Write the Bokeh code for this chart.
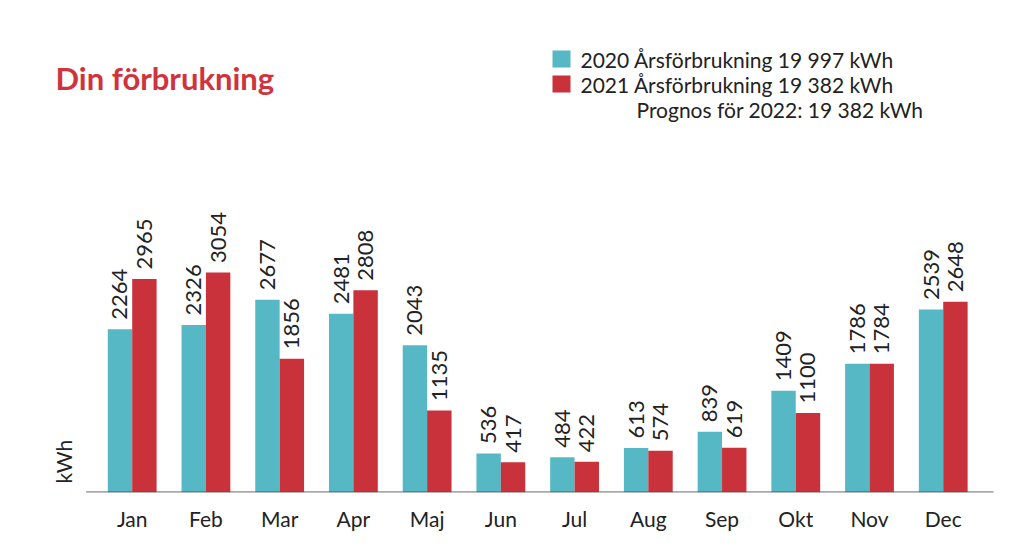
import numpy as np
from bokeh.plotting import figure
from bokeh.models import ColumnDataSource, FixedTicker, Range1d
from bokeh.core.properties import value
from bokeh.embed import file_html
from bokeh.resources import INLINE

months = ["Jan", "Feb", "Mar", "Apr", "Maj", "Jun", "Jul", "Aug", "Sep", "Okt", "Nov", "Dec"]
y2020 = [2264, 2326, 2677, 2481, 2043, 536, 484, 613, 839, 1409, 1786, 2539]
y2021 = [2965, 3054, 1856, 2808, 1135, 417, 422, 574, 619, 1100, 1784, 2648]
title_text = "Din förbrukning"
legend_lines = ["2020 Årsförbrukning 19 997 kWh", "2021 Årsförbrukning 19 382 kWh", "Prognos för 2022: 19 382 kWh"]
unit_label = "kWh"

TEAL = "#56b8c5"
RED = "#c9313b"
TXT = "#222222"
FONT = "Lato"

W, H = 1007, 541
BASE = 492          # baseline pixel row
BOTTOM = H - BASE
PX_PER_KWH = 0.0719
PX_PER_CAT = 73.73
X0 = -131.7 / PX_PER_CAT  # frame left in category units

frame_h = BASE
y_start = -5
y_end = y_start + frame_h / PX_PER_KWH
x_end = X0 + W / PX_PER_CAT

def xd(sx):  # pixel x -> data
    return X0 + sx / PX_PER_CAT

def yd(sy):  # pixel y -> data
    return y_start + (frame_h - sy) / PX_PER_KWH

p = figure(width=W, height=H, output_backend="svg", toolbar_location=None,
           x_range=Range1d(X0, x_end), y_range=Range1d(y_start, y_end),
           y_axis_location=None, min_border_left=0, min_border_right=0,
           min_border_top=0, min_border_bottom=BOTTOM)
p.outline_line_color = None
p.xgrid.visible = False
p.ygrid.visible = False
p.background_fill_color = "white"

idx = np.arange(len(months))
bw = 0.331
src = ColumnDataSource(dict(x=idx, a=y2020, b=y2021,
                            xa=idx - bw / 2, xb=idx + bw / 2,
                            la=[str(v) for v in y2020], lb=[str(v) for v in y2021]))

p.vbar(x="xa", top="a", bottom=0, width=bw, source=src, fill_color=TEAL, line_color=None)
p.vbar(x="xb", top="b", bottom=0, width=bw, source=src, fill_color=RED, line_color=None)

# baseline
p.segment(x0=[xd(85.7)], y0=[0], x1=[xd(993)], y1=[0], line_color="#555555", line_width=1.2)

# value labels
gap = 9.5 / PX_PER_KWH
src.data["ya"] = [v + gap for v in y2020]
src.data["yb"] = [v + gap for v in y2021]
for xcol, ycol, lcol in (("xa", "ya", "la"), ("xb", "yb", "lb")):
    p.text(x=xcol, y=ycol, text=lcol, source=src, angle=np.pi / 2,
           text_align="left", text_baseline="middle", text_font=value(FONT),
           text_font_size="22px", text_color=TXT)

# x axis (months)
ax = p.xaxis[0]
ax.ticker = FixedTicker(ticks=list(idx))
ax.major_label_overrides = {int(i): m for i, m in zip(idx, months)}
ax.axis_line_color = None
ax.major_tick_line_color = None
ax.minor_tick_line_color = None
ax.major_label_standoff = 7
ax.major_label_text_font = FONT
ax.major_label_text_font_size = "21px"
ax.major_label_text_color = TXT

# kWh unit label
p.text(x=[xd(63.3)], y=[yd(483)], text=[unit_label], angle=np.pi / 2, text_align="left",
       text_baseline="middle", text_font=value(FONT), text_font_size="21px", text_color=TXT)

# title
p.text(x=[xd(55)], y=[yd(77)], text=[title_text], text_align="left", text_baseline="alphabetic",
       text_font=value(FONT), text_font_style="bold", text_font_size="31px", text_color="#d0333c")

# legend
p.rect(x=[xd(561), xd(561)], y=[yd(58.5), yd(83.5)], width=18, height=17,
       width_units="screen", height_units="screen", fill_color=[TEAL, RED], line_color=None)
p.text(x=[xd(580), xd(580), xd(636)], y=[yd(58.5), yd(83.5), yd(108.5)], text=legend_lines,
       text_align="left", text_baseline="alphabetic", text_font=value(FONT),
       text_font_size="21px", text_color=TXT)

open("out.html", "w").write(file_html(p, INLINE))
